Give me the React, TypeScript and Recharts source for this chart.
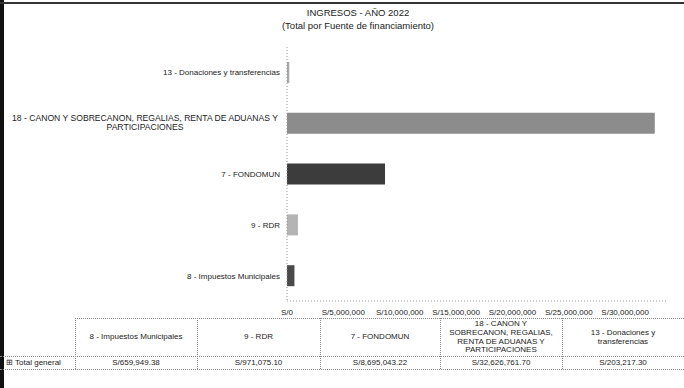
import React from 'react';
import { BarChart, Bar, XAxis, YAxis, Cell } from 'recharts';

const categories = [
  '13 - Donaciones y transferencias',
  '18 - CANON Y SOBRECANON, REGALIAS, RENTA DE ADUANAS Y PARTICIPACIONES',
  '7 - FONDOMUN',
  '9 - RDR',
  '8 - Impuestos Municipales',
];
const values = [203217.3, 32626761.7, 8695043.22, 971075.1, 659949.38];
const barColors = ['#a8a8a8', '#8c8c8c', '#3c3c3c', '#b4b4b4', '#4a4a4a'];
const xTicks = [0, 5000000, 10000000, 15000000, 20000000, 25000000, 30000000];

const tableHeaders = [
  '8 - Impuestos Municipales',
  '9 - RDR',
  '7 - FONDOMUN',
  '18 - CANON Y\nSOBRECANON, REGALIAS,\nRENTA DE ADUANAS Y\nPARTICIPACIONES',
  '13 - Donaciones y\ntransferencias',
];
const tableValues = ['S/659,949.38', 'S/971,075.10', 'S/8,695,043.22', 'S/32,626,761.70', 'S/203,217.30'];
const rowLabel = '⊞ Total general';

const data = categories.map((c, i) => ({ name: c, value: values[i] }));

const FONT = '"Liberation Sans", Arial, sans-serif';
const NARROW = '"Liberation Sans Narrow", "Liberation Sans", Arial, sans-serif';

const fmt = (v: number) => 'S/' + v.toLocaleString('en-US');

const YTick = (props: any) => {
  const { x, y, payload } = props;
  const label: string = payload.value;
  if (label.length > 45) {
    const cut = label.lastIndexOf(' ', 56);
    const l1 = label.slice(0, cut);
    const l2 = label.slice(cut + 1);
    const cx = x - 134;
    return (
      <g>
        <text x={cx} y={y - 2} textAnchor="middle" fontSize={8.6} fill="#222" fontFamily={FONT}>{l1}</text>
        <text x={cx} y={y + 7} textAnchor="middle" fontSize={8.6} fill="#222" fontFamily={FONT}>{l2}</text>
      </g>
    );
  }
  return (
    <text x={x + 1} y={y + 3} textAnchor="end" fontSize={8} fill="#222" fontFamily={FONT}>{label}</text>
  );
};

const colEdges = [0, 75, 197, 320, 440, 562, 684];

export default function App() {
  const cellBorder = '1px dotted #888';
  const headH = 38;
  const rowH = 13;
  return (
    <div style={{ position: 'absolute', left: 0, top: 0, width: 684, height: 388, background: '#fff', fontFamily: FONT, overflow: 'hidden' }}>
      <div style={{ position: 'absolute', left: 0, top: 0, width: 4, height: 388, background: '#111' }} />
      <div style={{ position: 'absolute', left: 0, top: 2, width: 684, height: 2, background: '#333' }} />
      <div style={{ position: 'absolute', left: 258, width: 200, top: 6, textAlign: 'center', fontSize: 9.5, color: '#222', lineHeight: '13px' }}>
        INGRESOS - AÑO 2022
        <br />
        (Total por Fuente de financiamiento)
      </div>
      <div style={{ position: 'absolute', left: 0, top: 0 }}>
        <BarChart
          width={684}
          height={318}
          data={data}
          layout="vertical"
          margin={{ top: 47, right: 16, bottom: 0, left: 0 }}
          barSize={21}
        >
          <XAxis
            type="number"
            domain={[0, 33800000]}
            ticks={xTicks}
            tickFormatter={fmt}
            tickLine={false}
            axisLine={{ stroke: '#999', strokeDasharray: '1 2' }}
            tick={{ fontSize: 8, fill: '#222', fontFamily: NARROW }}
            height={17}
            interval={0}
          />
          <YAxis
            type="category"
            dataKey="name"
            width={287}
            tickLine={false}
            axisLine={{ stroke: '#999', strokeDasharray: '1 2' }}
            tick={<YTick />}
            interval={0}
          />
          <Bar dataKey="value" isAnimationActive={false}>
            {data.map((d, i) => (
              <Cell key={d.name} fill={barColors[i]} />
            ))}
          </Bar>
        </BarChart>
      </div>
      <div style={{ position: 'absolute', left: 0, top: 318, width: 684, height: headH + rowH, fontSize: 8, color: '#222' }}>
        <div style={{ position: 'absolute', left: 75, top: 0, width: 609, height: 0, borderTop: cellBorder }} />
        <div style={{ position: 'absolute', left: 0, top: headH, width: 684, height: 0, borderTop: cellBorder }} />
        <div style={{ position: 'absolute', left: 0, top: headH + rowH, width: 684, height: 0, borderTop: cellBorder }} />
        {colEdges.slice(1, 6).map((x, i) => (
          <div key={'v' + i} style={{ position: 'absolute', left: x, top: 0, width: 0, height: headH + rowH, borderLeft: cellBorder }} />
        ))}
        {tableHeaders.map((h, i) => (
          <div
            key={h}
            style={{
              position: 'absolute',
              left: colEdges[i + 1] + 3,
              width: colEdges[i + 2] - colEdges[i + 1] - 6,
              top: 1,
              height: headH - 1,
              display: 'flex',
              alignItems: 'center',
              justifyContent: 'center',
              textAlign: 'center',
              lineHeight: '8.6px',
              whiteSpace: 'pre-line',
            }}
          >
            {h}
          </div>
        ))}
        <div style={{ position: 'absolute', left: 6, top: headH + 1, height: rowH, lineHeight: '12px', whiteSpace: 'nowrap' }}>{rowLabel}</div>
        {tableValues.map((v, i) => (
          <div
            key={v}
            style={{
              position: 'absolute',
              left: colEdges[i + 1],
              width: colEdges[i + 2] - colEdges[i + 1],
              top: headH + 1,
              height: rowH,
              lineHeight: '12px',
              textAlign: 'center',
            }}
          >
            {v}
          </div>
        ))}
      </div>
    </div>
  );
}
